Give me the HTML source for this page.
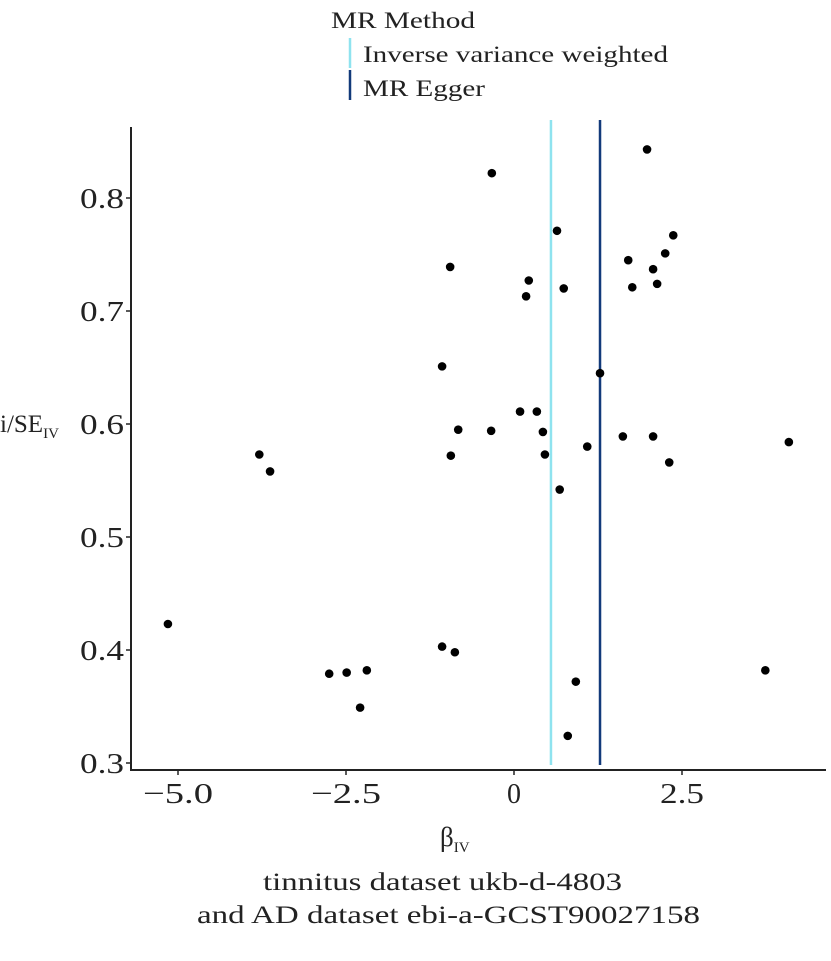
<!DOCTYPE html>
<html><head><meta charset="utf-8"><style>
html,body{margin:0;padding:0;background:#fff}
svg text{font-family:"Liberation Serif",serif;fill:#222}
</style></head><body>
<svg width="831" height="956" xmlns="http://www.w3.org/2000/svg">
<g>
<text x="331" y="28" font-size="23" textLength="144" lengthAdjust="spacingAndGlyphs">MR Method</text>
<line x1="350" y1="38" x2="350" y2="68" stroke="#8fe3ef" stroke-width="2.5"/>
<text x="363" y="62" font-size="23" textLength="305" lengthAdjust="spacingAndGlyphs">Inverse variance weighted</text>
<line x1="350" y1="70" x2="350" y2="100" stroke="#123a7a" stroke-width="2.5"/>
<text x="363" y="96" font-size="23" textLength="122" lengthAdjust="spacingAndGlyphs">MR Egger</text>
</g>
<g id="plot"></g>
<text x="0" y="432" font-size="25">i/SE<tspan font-size="15" dy="6">IV</tspan></text>
<text x="440" y="846" font-size="27">β<tspan font-size="15" dy="6">IV</tspan></text>
<text x="263" y="890" font-size="25" textLength="359" lengthAdjust="spacingAndGlyphs">tinnitus dataset ukb-d-4803</text>
<text x="197" y="923" font-size="25" textLength="503" lengthAdjust="spacingAndGlyphs">and AD dataset ebi-a-GCST90027158</text>
</svg>
<script>
const betaIV=[-5.15,-3.79,-3.63,-2.75,-2.49,-2.19,-2.29,-1.07,-1.07,-0.88,-0.95,-0.94,-0.83,-0.33,-0.34,0.09,0.22,0.18,0.34,0.43,0.46,0.64,0.74,0.68,0.80,0.92,1.09,1.28,1.62,1.70,1.76,1.98,2.07,2.07,2.13,2.25,2.31,2.37,3.74,4.09];
const weightIV=[0.423,0.573,0.558,0.379,0.380,0.382,0.349,0.651,0.403,0.398,0.739,0.572,0.595,0.822,0.594,0.611,0.727,0.713,0.611,0.593,0.573,0.771,0.720,0.542,0.324,0.372,0.580,0.645,0.589,0.745,0.721,0.843,0.737,0.589,0.724,0.751,0.566,0.767,0.382,0.584];
const methodNames=["Inverse variance weighted","MR Egger"];
const methodSlopes=[0.55,1.28];
const methodColors=["#8fe3ef","#123a7a"];
const xTicks=[-5,-2.5,0,2.5];
const xTickLabels=["−5.0","−2.5","0","2.5"];
const yTicks=[0.3,0.4,0.5,0.6,0.7,0.8];
const yTickLabels=["0.3","0.4","0.5","0.6","0.7","0.8"];
const NS="http://www.w3.org/2000/svg";
const X=v=>514+v*67.2;
const Y=v=>763-(v-0.3)*1130;
const g=document.getElementById('plot');
function mk(t,a){const e=document.createElementNS(NS,t);for(const k in a)e.setAttribute(k,a[k]);g.appendChild(e);return e;}
methodSlopes.forEach((s,i)=>{
 const l=mk('line',{x1:X(s),x2:X(s),y1:120,y2:765,stroke:methodColors[i],'stroke-width':2.5});
 
 
});
betaIV.forEach((b,i)=>{
 const c=mk('circle',{cx:X(b),cy:Y(weightIV[i]),r:4.3,fill:'#000'});
 
 
});
const ya=mk('line',{x1:131,x2:131,y1:127,y2:771,stroke:'#222','stroke-width':2});


const xa=mk('line',{x1:130,x2:826,y1:770,y2:770,stroke:'#222','stroke-width':2});


yTicks.forEach((v,i)=>{
 mk('line',{x1:126,x2:131,y1:Y(v),y2:Y(v),stroke:'#222','stroke-width':1.5});
 const t=mk('text',{x:124,y:Y(v)+10,'font-size':29,'text-anchor':'end',fill:'#666',textLength:44,lengthAdjust:'spacingAndGlyphs'});
 t.textContent=yTickLabels[i];
 
 
});
xTicks.forEach((v,i)=>{
 mk('line',{x1:X(v),x2:X(v),y1:770,y2:775,stroke:'#222','stroke-width':1.5});
 const w=xTickLabels[i].length>1?(xTickLabels[i].length===3?44:70):14;
 const t=mk('text',{x:X(v)-w/2,y:803,'font-size':29,fill:'#666',textLength:w,lengthAdjust:'spacingAndGlyphs'});
 t.textContent=xTickLabels[i];
 
 
});
</script>
</body></html>
